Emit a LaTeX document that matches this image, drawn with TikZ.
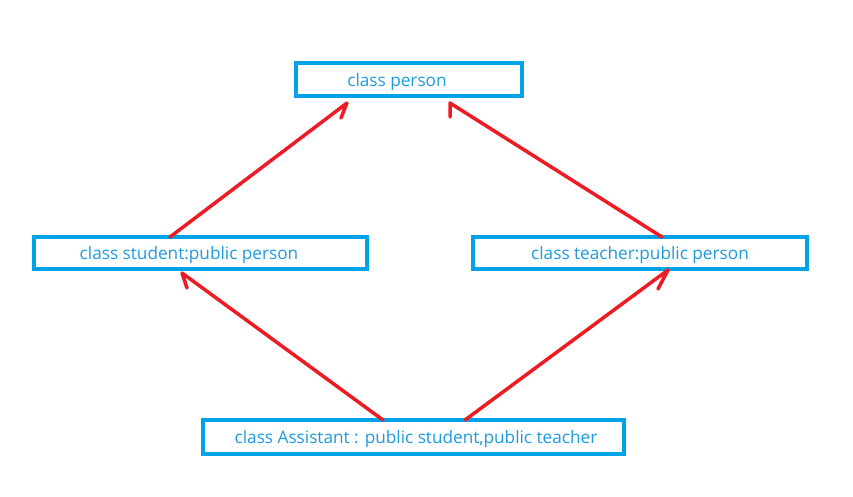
\documentclass[tikz,border=0pt]{standalone}
\usepackage{fontspec}
\setmainfont{Open Sans}
\usetikzlibrary{calc}
\definecolor{boxblue}{HTML}{00A2E8}
\definecolor{txtblue}{HTML}{1E9BDF}
\definecolor{arrred}{HTML}{ED1C24}
\begin{document}
\begin{tikzpicture}[x=1pt,y=-1pt,
  classbox/.style={draw=boxblue,line width=4.5pt,inner sep=0pt,outer sep=0pt,
    text=txtblue,font=\fontsize{17.2}{20}\selectfont,text height=15pt,text depth=2pt},
  inh/.style={draw=arrred,line width=3.5pt,line cap=round,line join=round}]
\useasboundingbox[fill=white] (0,0) rectangle (853,496);
\node[classbox,minimum width=226pt,minimum height=33pt] (person) at (409,79.5) {class person\kern24pt\relax};
\node[classbox,minimum width=333pt,minimum height=32pt] (student) at (200.5,253) {class student:public person\kern23pt\relax};
\node[classbox,minimum width=334pt,minimum height=32pt] (teacher) at (640,253) {class teacher:public person};
\node[classbox,minimum width=421pt,minimum height=34pt] (assistant) at (413.5,437) {\kern5pt class Assistant : public student,public teacher};
% connector end points
\coordinate (s1) at (student.north west -| 170,0);
\coordinate (p1) at (347,103);
\coordinate (p1b) at (341,118);
\coordinate (t1) at (teacher.north west -| 662,0);
\coordinate (p2) at (450,103);
\coordinate (p2b) at (450,117);
\coordinate (a1) at (assistant.north west -| 383,0);
\coordinate (s2) at (182,273);
\coordinate (s2b) at (187,288);
\coordinate (a2) at (assistant.north west -| 465,0);
\coordinate (t2) at (668,270);
\coordinate (t2b) at (658,289);
\draw[inh] (s1) -- (p1) -- (p1b);
\draw[inh] (t1) -- (p2) -- (p2b);
\draw[inh] (a1) -- (s2) -- (s2b);
\draw[inh] (a2) -- (t2) -- (t2b);
\end{tikzpicture}
\end{document}
